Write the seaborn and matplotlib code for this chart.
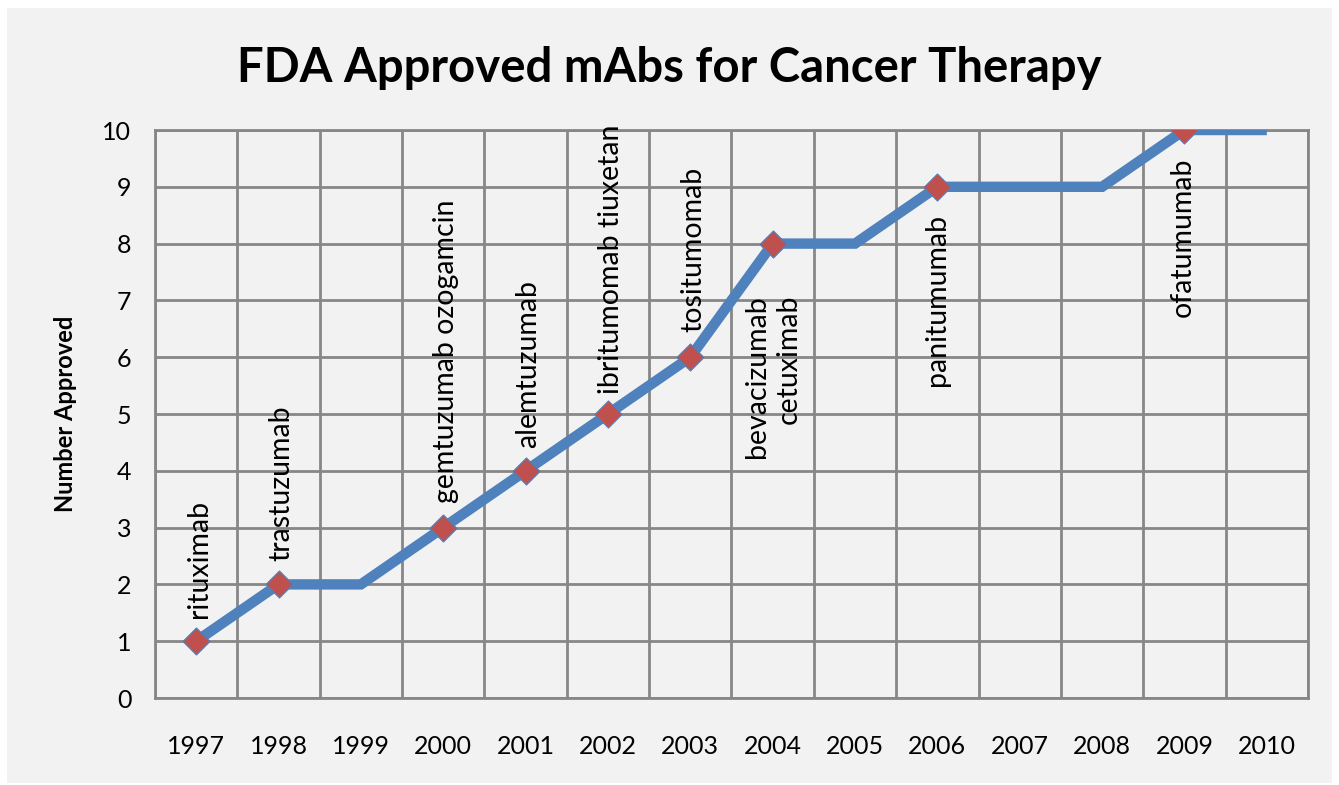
import matplotlib
matplotlib.use("Agg")
import matplotlib.pyplot as plt
import matplotlib.patches as patches
from matplotlib.ticker import FixedLocator, NullFormatter
import pandas as pd
import seaborn as sns

# Data
years = [1997, 1998, 1999, 2000, 2001, 2002, 2003, 2004, 2005, 2006, 2007, 2008, 2009, 2010]
approved = [1, 2, 2, 3, 4, 5, 6, 8, 8, 9, 9, 9, 10, 10]
drug_years = [1997, 1998, 2000, 2001, 2002, 2003, 2004, 2006, 2009]
drug_names = ["rituximab", "trastuzumab", "gemtuzumab ozogamcin", "alemtuzumab",
              "ibritumomab tiuxetan", "tositumomab", "bevacizumab\ncetuximab",
              "panitumumab", "ofatumumab"]
y_ticks = list(range(0, 11))

# label placement: "above" or "below" the marker, offsets in points
label_side = ["above"] * 6 + ["below"] * 3
label_gap = [17, 17, 18, 16.5, 14.5, 18, 37, 19.5, 19.5]
label_dx = [2, 2, 2, 2, 2, 2, 0, 0, -1]

BLUE = "#4f81bd"
RED = "#c0504d"
GRID = "#878787"
BG = "#f2f2f2"

sns.set_style("white")
plt.rcParams["font.family"] = ["Lato", "DejaVu Sans"]
plt.rcParams["text.color"] = "black"
plt.rcParams["xtick.color"] = "black"
plt.rcParams["ytick.color"] = "black"
plt.rcParams["axes.labelcolor"] = "black"

df = pd.DataFrame({"year": years, "approved": approved})
drugs = df[df["year"].isin(drug_years)].copy()

fig = plt.figure(figsize=(13.39, 7.85), dpi=100)
fig.patch.set_facecolor("white")
fig.patches.append(patches.Rectangle((7 / 1339, 2 / 785), 1325 / 1339, 775 / 785,
                                     transform=fig.transFigure, facecolor=BG,
                                     edgecolor="none", zorder=-10))
ax = fig.add_axes([155 / 1339, 87 / 785, 1153 / 1339, 568 / 785])
ax.set_facecolor(BG)

sns.lineplot(data=df, x="year", y="approved", ax=ax, color=BLUE, linewidth=7.5,
             solid_capstyle="butt", solid_joinstyle="miter", zorder=3)
sns.scatterplot(data=drugs, x="year", y="approved", ax=ax, marker="D", s=190,
                color=RED, edgecolor=BLUE, linewidth=0.8, zorder=4)

for (yr, val), name, side, gap, dx in zip(drugs[["year", "approved"]].values, drug_names,
                                          label_side, label_gap, label_dx):
    if side == "above":
        ax.annotate(name, (yr, val), xytext=(dx, gap), textcoords="offset points",
                    rotation=90, ha="center", va="bottom", fontsize=20.5, zorder=5)
    else:
        ax.annotate(name, (yr, val), xytext=(dx, -gap), textcoords="offset points",
                    rotation=90, ha="center", va="top", fontsize=20.5,
                    multialignment="right", linespacing=1.3, zorder=5)

ax.set_xlim(years[0] - 0.5, years[-1] + 0.5)
ax.set_ylim(0, 10)
ax.set_yticks(y_ticks)
ax.set_xticks([y - 0.5 for y in years] + [years[-1] + 0.5])
ax.xaxis.set_major_formatter(NullFormatter())
ax.xaxis.set_minor_locator(FixedLocator(years))
ax.set_xticklabels([str(y) for y in years], minor=True)
ax.tick_params(axis="x", which="major", length=9, width=2, color=GRID, direction="out")
ax.tick_params(axis="x", which="minor", length=0, pad=27, labelsize=18)
ax.tick_params(axis="y", length=9, width=2, color=GRID, pad=8, labelsize=18, direction="out")
ax.grid(True, which="major", color=GRID, linewidth=2)
for s in ax.spines.values():
    s.set_color(GRID)
    s.set_linewidth(2)

ax.set_xlabel("")
ax.set_ylabel("Number Approved", fontsize=17, fontweight="bold", labelpad=18)
fig.suptitle("FDA Approved mAbs for Cancer Therapy", fontsize=34, fontweight="bold",
             y=1 - 68 / 785, va="center")

fig.savefig("out.png", dpi=100, facecolor=fig.get_facecolor())
